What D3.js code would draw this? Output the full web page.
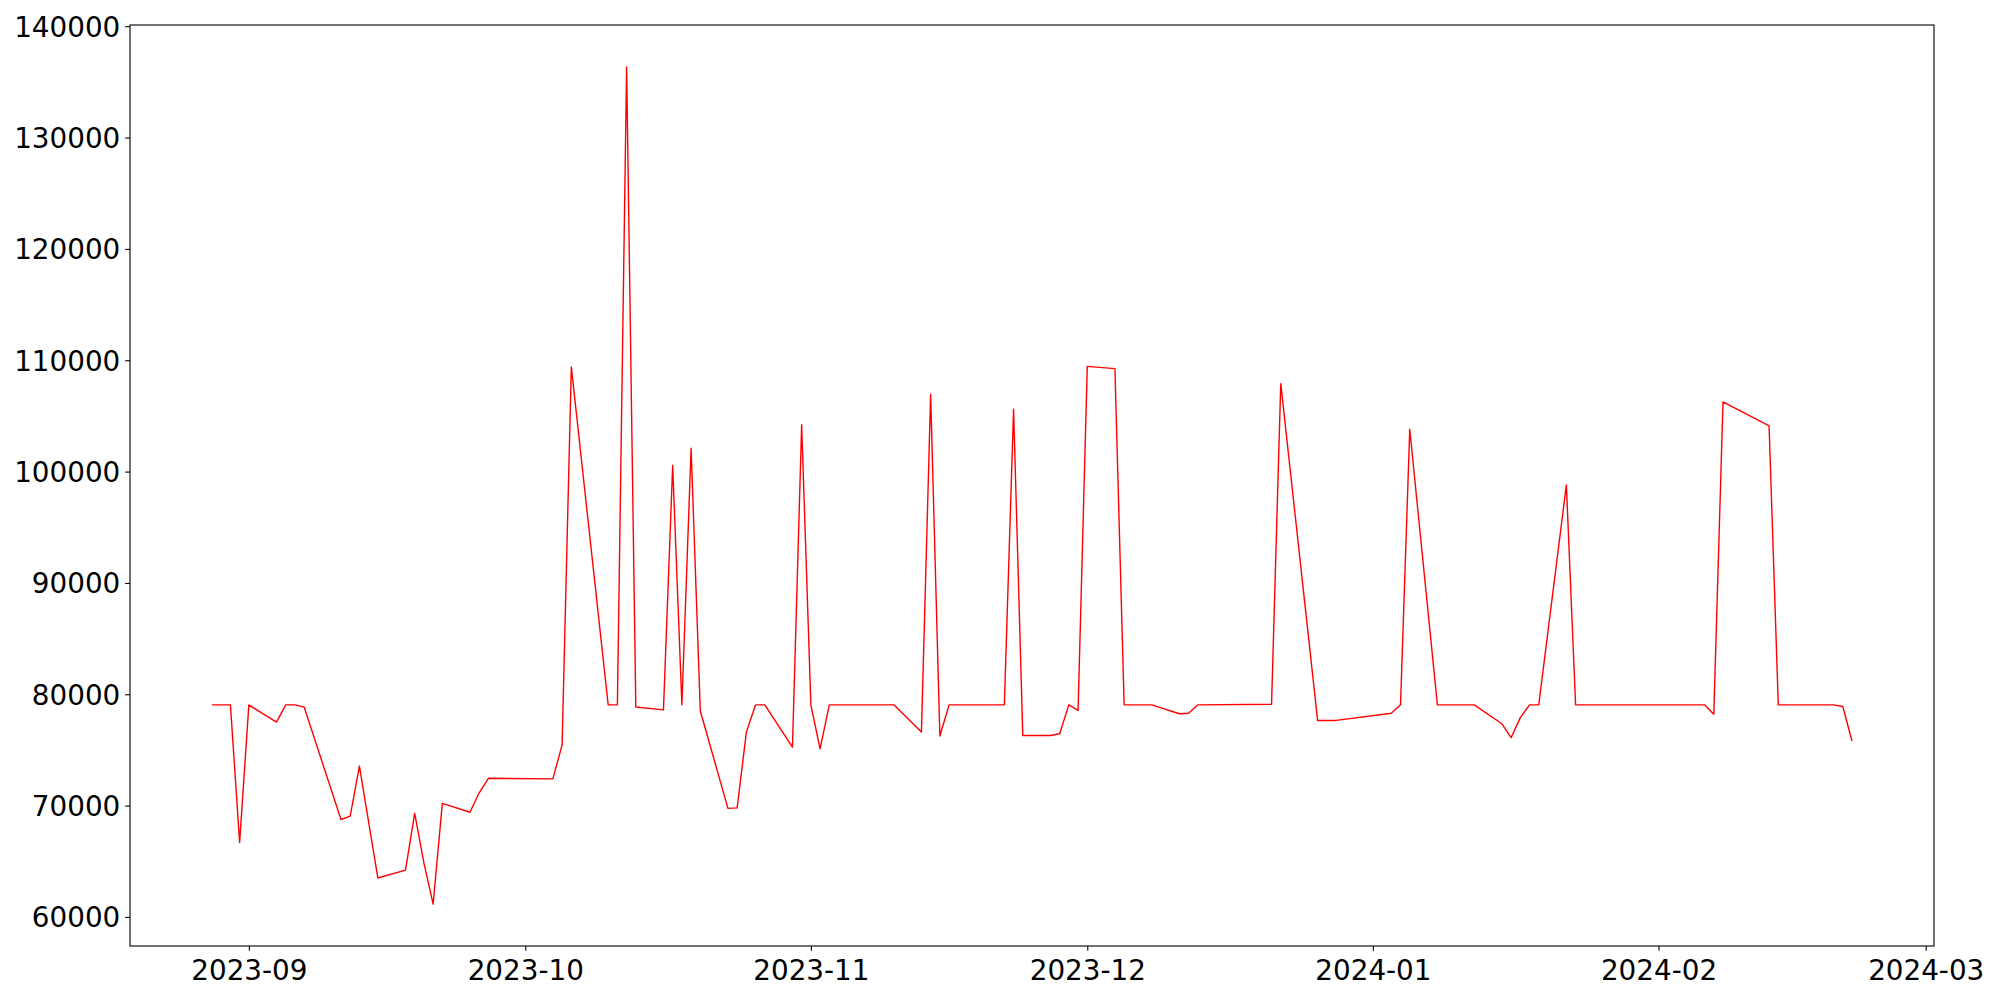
<!DOCTYPE html>
<html>
<head>
<meta charset="utf-8">
<script src="https://cdn.jsdelivr.net/npm/d3@7"></script>
<style>
  html, body { margin: 0; padding: 0; background: #ffffff; }
  svg { display: block; }
</style>
</head>
<body>
<svg id="chart" width="2000" height="1000"></svg>
<script>
// ---- data ----
const dates = [
  "2023-08-28","2023-08-30","2023-08-31","2023-09-01","2023-09-04","2023-09-05","2023-09-06","2023-09-07",
  "2023-09-11","2023-09-12","2023-09-13","2023-09-15","2023-09-18","2023-09-19","2023-09-20","2023-09-21",
  "2023-09-22","2023-09-25","2023-09-26","2023-09-27","2023-10-04","2023-10-05","2023-10-06","2023-10-10",
  "2023-10-11","2023-10-12","2023-10-13","2023-10-16","2023-10-17","2023-10-18","2023-10-19","2023-10-20",
  "2023-10-23","2023-10-24","2023-10-25","2023-10-26","2023-10-27","2023-10-30","2023-10-31","2023-11-01",
  "2023-11-02","2023-11-03","2023-11-10","2023-11-13","2023-11-14","2023-11-15","2023-11-16","2023-11-22",
  "2023-11-23","2023-11-24","2023-11-27","2023-11-28","2023-11-29","2023-11-30","2023-12-01","2023-12-04",
  "2023-12-05","2023-12-08","2023-12-11","2023-12-12","2023-12-13","2023-12-21","2023-12-22","2023-12-26",
  "2023-12-28","2024-01-03","2024-01-04","2024-01-05","2024-01-08","2024-01-12","2024-01-15","2024-01-16",
  "2024-01-17","2024-01-18","2024-01-19","2024-01-22","2024-01-23","2024-02-06","2024-02-07","2024-02-08",
  "2024-02-13","2024-02-14","2024-02-20","2024-02-21","2024-02-22"
];
const values = [
  79050, 79050, 66700, 79050, 77500, 79050, 79050, 78850,
  68750, 69050, 73550, 63500, 64200, 69300, 64850, 61150,
  70200, 69400, 71150, 72450, 72400, 75450, 109400, 79050,
  79050, 136350, 78850, 78600, 100550, 79050, 102100, 78500,
  69750, 69800, 76600, 79050, 79050, 75250, 104200, 79050,
  75100, 79050, 79050, 76600, 106950, 76250, 79050, 79050,
  105600, 76300, 76300, 76450, 79050, 78550, 109450, 109250,
  79050, 79050, 78250, 78300, 79050, 79100, 107900, 77650,
  77650, 78300, 79050, 103800, 79050, 79050, 77350, 76100,
  77900, 79050, 79050, 98800, 79050, 79050, 78200, 106250,
  104100, 79050, 79050, 78900, 75800
];
const yTickValues = [60000, 70000, 80000, 90000, 100000, 110000, 120000, 130000, 140000];
const xTickLabels = ["2023-09", "2023-10", "2023-11", "2023-12", "2024-01", "2024-02", "2024-03"];

(function () {
  // ---- layout ----
  const W = 2000, H = 1000;
  const mLeft = 130, mRight = 1934, mTop = 25, mBottom = 946;
  const fontSize = 27.8;
  const tickLen = 4.86, tickPad = 4.86;

  const parseDay = d3.utcParse("%Y-%m-%d");
  const parseMonth = d3.utcParse("%Y-%m");
  const data = dates.map((d, i) => ({ date: parseDay(d), value: values[i] }));

  const [dMin, dMax] = d3.extent(data, d => d.date.getTime());
  const dPad = (dMax - dMin) * 0.05;
  const [vMin, vMax] = d3.extent(data, d => d.value);
  const vPad = (vMax - vMin) * 0.05;

  const x = d3.scaleUtc().domain([new Date(dMin - dPad), new Date(dMax + dPad)]).range([mLeft, mRight]);
  const y = d3.scaleLinear().domain([vMin - vPad, vMax + vPad]).range([mBottom, mTop]);

  const svg = d3.select("#chart");
  svg.append("rect").attr("x", 0).attr("y", 0).attr("width", W).attr("height", H).attr("fill", "#ffffff");

  // line
  const line = d3.line().x(d => x(d.date)).y(d => y(d.value));
  svg.append("path")
    .datum(data)
    .attr("d", line)
    .attr("fill", "none")
    .attr("stroke", "#ff0000")
    .attr("stroke-width", 1.4)
    .attr("stroke-linejoin", "round")
    .attr("stroke-linecap", "butt");

  // axes
  const xAxis = d3.axisBottom(x)
    .tickValues(xTickLabels.map(parseMonth))
    .tickFormat(d3.utcFormat("%Y-%m"))
    .tickSize(tickLen)
    .tickPadding(tickPad);
  const gx = svg.append("g").attr("transform", `translate(0,${mBottom})`).call(xAxis);
  gx.select(".domain").remove();
  gx.selectAll(".tick line").attr("stroke", "#000").attr("stroke-width", 1.1);
  gx.selectAll(".tick text")
    .attr("font-family", "'DejaVu Sans', sans-serif")
    .attr("font-size", fontSize)
    .attr("fill", "#000")
    .attr("y", 33.5)
    .attr("dy", 0);

  const yAxis = d3.axisLeft(y)
    .tickValues(yTickValues)
    .tickFormat(d3.format("d"))
    .tickSize(tickLen)
    .tickPadding(tickPad);
  const gy = svg.append("g").attr("transform", `translate(${mLeft},0)`).call(yAxis);
  gy.select(".domain").remove();
  gy.selectAll(".tick line").attr("stroke", "#000").attr("stroke-width", 1.1);
  gy.selectAll(".tick text")
    .attr("font-family", "'DejaVu Sans', sans-serif")
    .attr("font-size", fontSize)
    .attr("fill", "#000")
    .attr("dy", "0.36em");

  // frame (spines)
  svg.append("rect")
    .attr("x", mLeft).attr("y", mTop)
    .attr("width", mRight - mLeft).attr("height", mBottom - mTop)
    .attr("fill", "none")
    .attr("stroke", "#000")
    .attr("stroke-width", 1.1);
})();
</script>
</body>
</html>
